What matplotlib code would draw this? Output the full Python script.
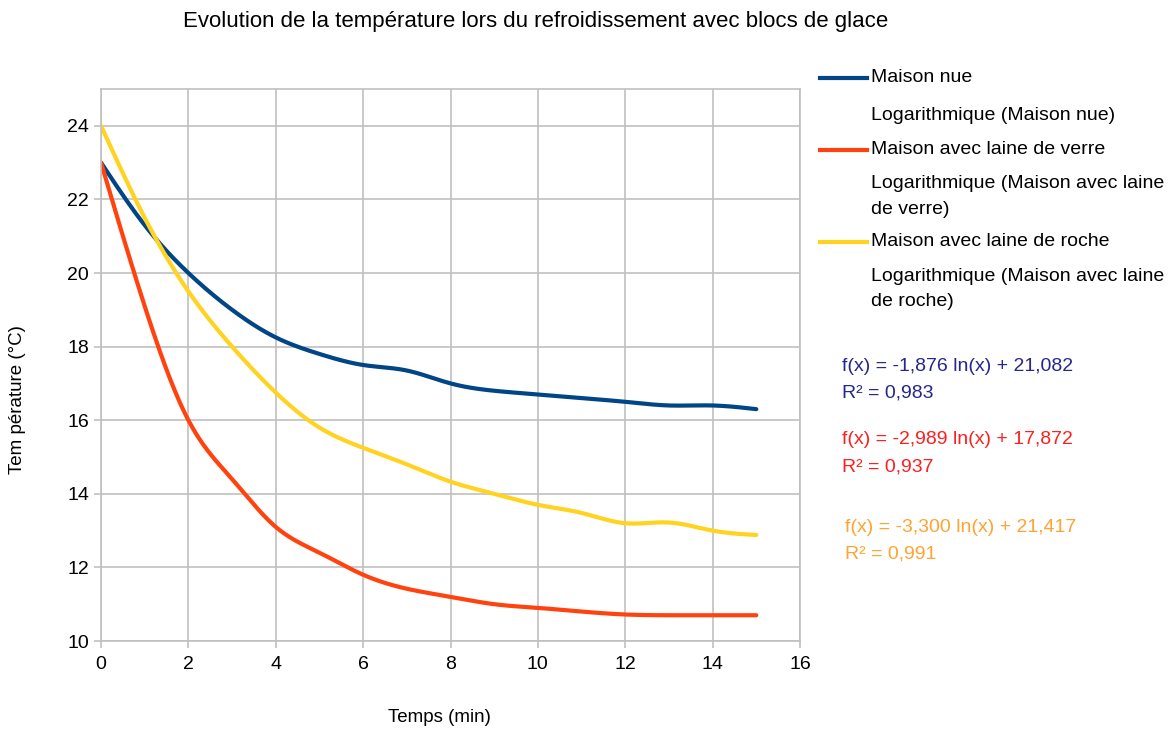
import numpy as np
import matplotlib
matplotlib.use("Agg")
import matplotlib.pyplot as plt
from matplotlib.lines import Line2D

plt.rcParams['font.family'] = ['Liberation Sans', 'DejaVu Sans']

# données
temps = [0, 1, 2, 3, 4, 5, 6, 7, 8, 9, 10, 11, 12, 13, 14, 15]
maison_nue = [23.0, 21.3, 20.0, 19.0, 18.25, 17.8, 17.5, 17.35, 17.0, 16.8, 16.7, 16.6, 16.5, 16.4, 16.4, 16.3]
laine_verre = [23.0, 19.1, 16.0, 14.4, 13.1, 12.4, 11.8, 11.42, 11.2, 11.0, 10.9, 10.8, 10.72, 10.7, 10.7, 10.7]
laine_roche = [24.0, 21.5, 19.5, 18.0, 16.75, 15.8, 15.25, 14.8, 14.33, 14.0, 13.7, 13.48, 13.2, 13.22, 13.0, 12.88]

noms = ["Maison nue", "Maison avec laine de verre", "Maison avec laine de roche"]
couleurs = ["#004586", "#ff420e", "#ffd320"]
equations = [("f(x) = -1,876 ln(x) + 21,082", "R² = 0,983"),
             ("f(x) = -2,989 ln(x) + 17,872", "R² = 0,937"),
             ("f(x) = -3,300 ln(x) + 21,417", "R² = 0,991")]
couleurs_eq = ["#26268f", "#ff1f1f", "#ffa333"]


"""
    spline cubique naturelle (lissage des courbes comme dans le tableur)
"""
def spline(x, y, n=400):
    x = np.asarray(x, float)
    y = np.asarray(y, float)
    m = len(x)
    h = np.diff(x)
    A = np.zeros((m, m))
    b = np.zeros(m)
    A[0, 0] = 1
    A[-1, -1] = 1
    for i in range(1, m - 1):
        A[i, i - 1] = h[i - 1]
        A[i, i] = 2 * (h[i - 1] + h[i])
        A[i, i + 1] = h[i]
        b[i] = 3 * ((y[i + 1] - y[i]) / h[i] - (y[i] - y[i - 1]) / h[i - 1])
    c = np.linalg.solve(A, b)
    xs = np.linspace(x[0], x[-1], n)
    ys = np.empty_like(xs)
    for k, xv in enumerate(xs):
        i = min(np.searchsorted(x, xv, side="right") - 1, m - 2)
        dx = xv - x[i]
        bi = (y[i + 1] - y[i]) / h[i] - h[i] * (2 * c[i] + c[i + 1]) / 3
        di = (c[i + 1] - c[i]) / (3 * h[i])
        ys[k] = y[i] + bi * dx + c[i] * dx ** 2 + di * dx ** 3
    return xs, ys


W, H = 1173, 729
fig = plt.figure(figsize=(W / 100, H / 100), dpi=100)
ax = fig.add_axes([101 / W, 1 - 641 / H, 699 / W, 552 / H])

for serie, couleur in zip([maison_nue, laine_verre, laine_roche], couleurs):
    xs, ys = spline(temps, serie)
    ax.plot(xs, ys, color=couleur, lw=3, solid_capstyle="round")

ax.set_xlim(0, 16)
ax.set_ylim(10, 25)
ax.set_xticks(range(0, 17, 2))
ax.set_yticks(range(10, 25, 2))
ax.grid(True, color="#c0c0c0", lw=1.2)
ax.set_axisbelow(True)
for s in ax.spines.values():
    s.set_color("#c0c0c0")
    s.set_linewidth(1.2)
ax.tick_params(colors="#c0c0c0", labelcolor="black", labelsize=14, length=5, width=1.2)
ax.tick_params(axis="x", pad=6)

fig.text(439 / W, 1 - 717 / H, "Temps (min)", ha="center", va="center", fontsize=13.5)
fig.text(18 / W, 1 - 400 / H, "Tem pérature (°C)", ha="center", va="center", fontsize=13.5, rotation=90)
fig.text(536 / W, 1 - 22 / H, "Evolution de la température lors du refroidissement avec blocs de glace",
         ha="center", va="center", fontsize=16)

# légende faite à la main
entrees = [("Maison nue", couleurs[0], 78), ("Logarithmique (Maison nue)", None, 116),
           ("Maison avec laine de verre", couleurs[1], 150), ("Logarithmique (Maison avec laine", None, 184),
           ("de verre)", None, 210),
           ("Maison avec laine de roche", couleurs[2], 242), ("Logarithmique (Maison avec laine", None, 276),
           ("de roche)", None, 302)]
for texte, couleur, y in entrees:
    if couleur:
        fig.add_artist(Line2D([820 / W, 867 / W], [1 - y / H, 1 - y / H], color=couleur, lw=3))
    fig.text(871 / W, 1 - y / H, texte, ha="left", va="center", fontsize=14)

for (l1, l2), c, x, y in zip(equations, couleurs_eq, [842, 842, 845], [366, 440, 527]):
    fig.text(x / W, 1 - y / H, l1, color=c, fontsize=14, va="center", ha="left")
    fig.text(x / W, 1 - (y + 27) / H, l2, color=c, fontsize=14, va="center", ha="left")

fig.savefig("out.png", dpi=100)
